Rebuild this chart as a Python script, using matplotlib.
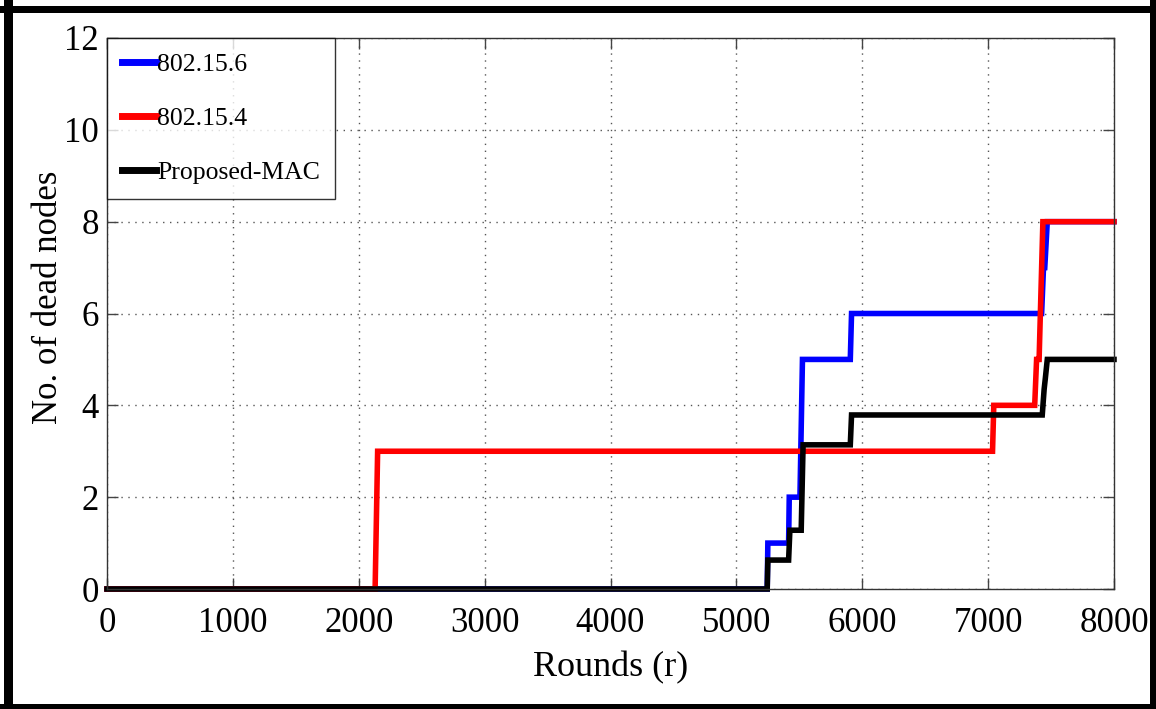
import matplotlib
matplotlib.use("Agg")
import matplotlib.pyplot as plt
from matplotlib.patches import Rectangle

# ---- data ----
blue_x = [0, 5245, 5250, 5415, 5420, 5505, 5525, 5905, 5915, 7425, 7440, 7450, 7470, 8000]
blue_y = [0, 0, 1, 1, 2, 2, 5, 5, 6, 6, 7, 7, 8, 8]

red_x = [0, 2130, 2150, 7035, 7045, 7370, 7385, 7405, 7435, 8000]
red_y = [0, 0, 3, 3, 4, 4, 5, 5, 8, 8]

black_x = [0, 5245, 5250, 5415, 5425, 5515, 5530, 5905, 5915, 7430, 7445, 7455, 7470, 8000]
black_y = [0, 0, 0.63, 0.63, 1.28, 1.28, 3.14, 3.14, 3.79, 3.79, 4.35, 4.6, 5, 5]

labels = ["802.15.6", "802.15.4", "Proposed-MAC"]
x_ticks = [0, 1000, 2000, 3000, 4000, 5000, 6000, 7000, 8000]
y_ticks = [0, 2, 4, 6, 8, 10, 12]

plt.rcParams['font.family'] = ['Liberation Serif', 'DejaVu Serif']

fig = plt.figure(figsize=(11.56, 7.09), dpi=100)
ax = fig.add_axes([107/1156, 1-589/709, (1114-107)/1156, (589-38)/709])

lw = 4.0
ax.plot(blue_x, blue_y, color='#0000ff', lw=lw, label=labels[0], clip_on=False, solid_joinstyle='miter')
ax.plot(red_x, red_y, color='#ff0000', lw=lw, label=labels[1], clip_on=False, solid_joinstyle='miter')
ax.plot(black_x, black_y, color='#000000', lw=lw, label=labels[2], clip_on=False, solid_joinstyle='miter')

ax.set_xlim(0, 8000)
ax.set_ylim(0, 12)
ax.set_xticks(x_ticks)
ax.set_yticks(y_ticks)
ax.set_xticklabels([str(v) for v in x_ticks])
ax.set_yticklabels([str(v) for v in y_ticks])

ax.grid(True, color='#555555', linestyle=(0, (1, 4)), linewidth=1.0)
ax.tick_params(direction='in', length=8, width=1, color='#444444', labelsize=25,
               top=True, right=True, pad=6)
ax.tick_params(axis='x', pad=13)
for s in ax.spines.values():
    s.set_color('#333333')
    s.set_linewidth(1.0)

ax.set_xlabel("Rounds (r)", fontsize=26, labelpad=8)
ax.set_ylabel("No. of dead nodes", fontsize=25)
ax.yaxis.set_label_coords(-0.042, 0.53)

leg = ax.legend(loc='upper left', fontsize=18.5, frameon=True, fancybox=False,
                borderaxespad=0, handlelength=1.3, handletextpad=0.05,
                labelspacing=1.2, borderpad=0.6)
leg.get_frame().set_edgecolor('black')
leg.get_frame().set_linewidth(1.0)
for ln in leg.get_lines():
    ln.set_linewidth(5)

# outer thick border
W, H = 1156, 709
for (x0, y0, w, h) in [(4, 0, 9, H), (1150, 0, 6, H), (0, 6, W, 7), (0, 704, W, 5)]:
    fig.patches.append(Rectangle((x0/W, 1-(y0+h)/H), w/W, h/H, transform=fig.transFigure,
                                 facecolor='black', edgecolor='none'))

fig.savefig("out.png", dpi=100, facecolor='white')
